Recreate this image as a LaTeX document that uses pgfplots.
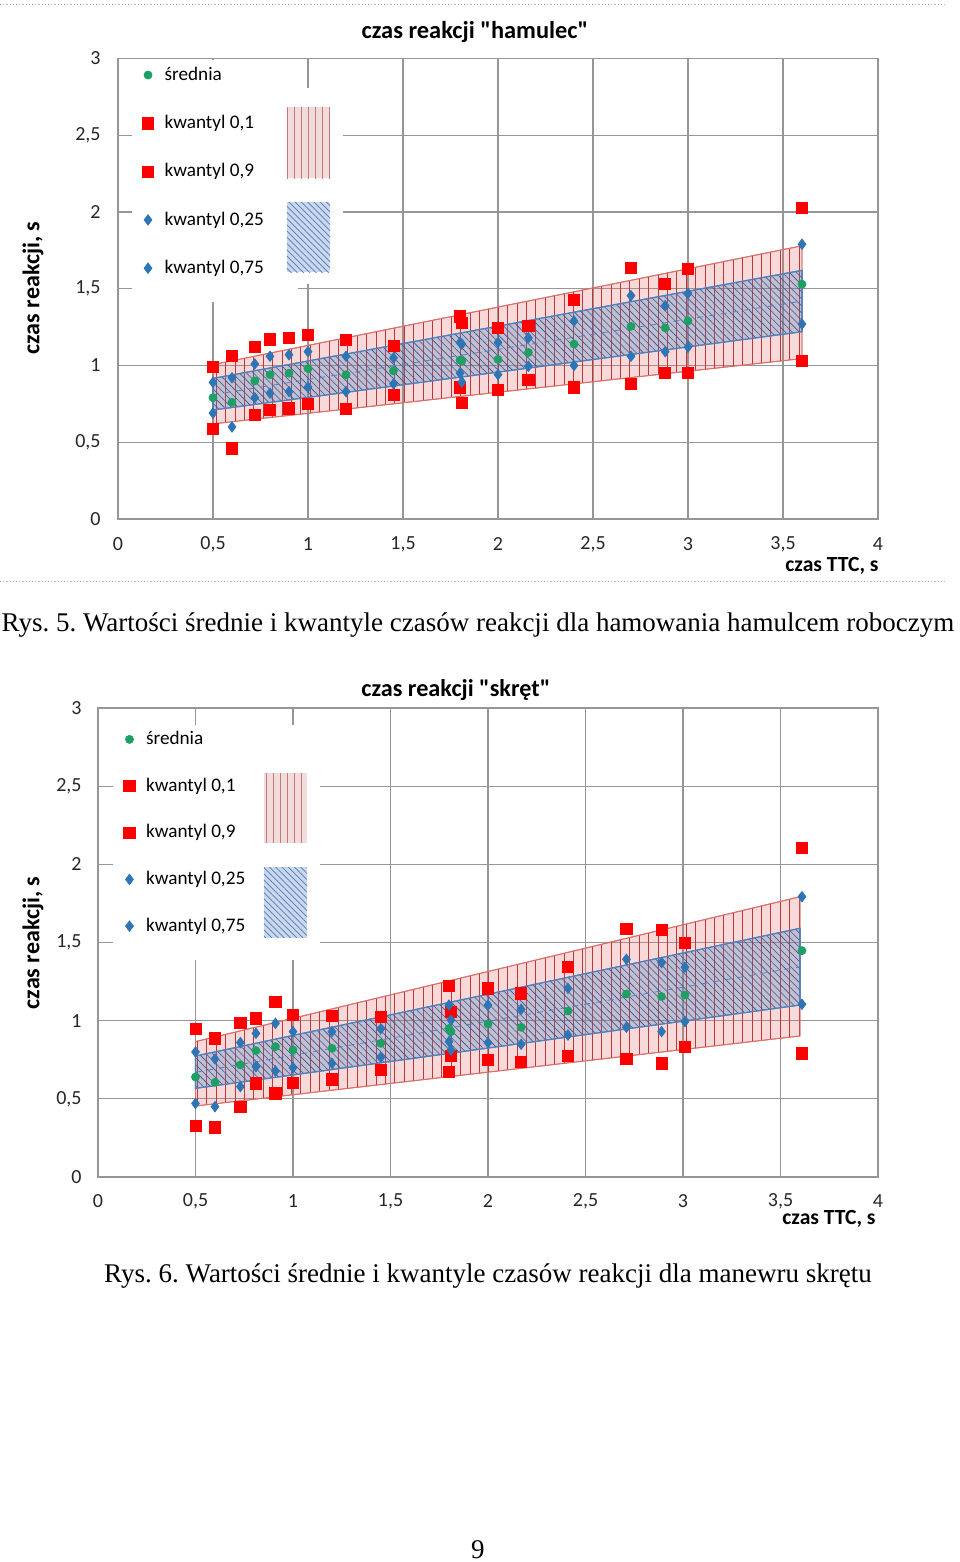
\documentclass[border=0pt]{standalone}
\usepackage{fontspec}
\setmainfont{Carlito}[Ligatures=TeXOff]
\newfontfamily\timesfont{Liberation Serif}
\usepackage{pgfplots}
\usepackage{pgfplotstable}
\pgfplotsset{compat=1.18}
\usetikzlibrary{patterns.meta}
\frenchspacing

\definecolor{mred}{RGB}{255,0,0}
\definecolor{mblue}{RGB}{46,117,182}
\definecolor{mgreen}{RGB}{30,160,100}
\definecolor{gridgray}{RGB}{150,150,150}
\definecolor{bandred}{RGB}{220,110,105}
\definecolor{hatchred}{RGB}{190,55,55}
\definecolor{bandblue}{RGB}{79,129,189}
\definecolor{hatchblue}{RGB}{55,85,140}
\definecolor{swred}{RGB}{242,220,219}
\definecolor{swblue}{RGB}{200,216,238}
\definecolor{swredline}{RGB}{195,120,120}
\definecolor{swblueline}{RGB}{90,120,170}

% hamulec: x, mean, q10, q90, q25, q75
\pgfplotstableread{
x m q10 q90 q25 q75
0.5 0.79 0.585 0.99 0.69 0.89
0.6 0.76 0.46 1.06 0.60 0.92
0.72 0.90 0.68 1.12 0.79 1.01
0.8 0.94 0.71 1.17 0.82 1.06
0.9 0.95 0.72 1.18 0.83 1.07
1.0 0.98 0.75 1.20 0.86 1.09
1.2 0.94 0.715 1.165 0.83 1.06
1.45 0.965 0.81 1.13 0.88 1.05
1.8 1.035 0.857 1.32 0.95 1.15
1.81 1.03 0.757 1.275 0.893 1.14
2.0 1.04 0.84 1.245 0.94 1.15
2.16 1.085 0.905 1.26 0.995 1.18
2.4 1.14 0.857 1.425 1.0 1.29
2.7 1.255 0.88 1.635 1.06 1.455
2.88 1.245 0.95 1.53 1.09 1.39
3.0 1.29 0.95 1.63 1.12 1.47
3.6 1.53 1.03 2.025 1.27 1.79
}\dataA

% skret
\pgfplotstableread{
x m q10 q90 q25 q75
0.5 0.64 0.325 0.945 0.47 0.80
0.6 0.606 0.318 0.887 0.45 0.755
0.73 0.717 0.446 0.987 0.578 0.86
0.81 0.808 0.599 1.015 0.706 0.919
0.91 0.834 0.535 1.12 0.678 0.983
1.0 0.8125 0.60 1.036 0.70 0.93
1.2 0.823 0.625 1.03 0.727 0.93
1.45 0.855 0.685 1.026 0.766 0.947
1.8 0.95 0.674 1.222 0.866 1.10
1.81 0.93 0.774 1.057 0.812 1.004
2.0 0.979 0.749 1.207 0.86 1.10
2.17 0.958 0.734 1.175 0.849 1.073
2.41 1.062 0.774 1.346 0.908 1.207
2.71 1.171 0.753 1.587 0.958 1.393
2.89 1.154 0.727 1.58 0.93 1.371
3.01 1.164 0.834 1.495 0.994 1.342
3.61 1.448 0.791 2.103 1.105 1.793
}\dataB

\pgfplotsset{
  mychart/.style={
    scale only axis, anchor=south west,
    xmin=0,xmax=4,ymin=0,ymax=3,
    xtick={0,0.5,1,1.5,2,2.5,3,3.5,4},
    ytick={0,0.5,1,1.5,2,2.5,3},
    xticklabels={0,{0,5},1,{1,5},2,{2,5},3,{3,5},4},
    yticklabels={0,{0,5},1,{1,5},2,{2,5},3},
    grid=major, grid style={gridgray, line width=0.55bp},
    axis line style={gridgray, line width=0.55bp},
    major tick length=0pt,
    tick label style={font=\fontsize{10bp}{12bp}\selectfont, text=black!85},
    xticklabel style={anchor=center, inner sep=0pt},
    yticklabel style={anchor=east, inner sep=0pt},
    legend style={draw=none, fill=none, anchor=north west,
      font=\fontsize{9.6bp}{11bp}\selectfont,
      /tikz/every odd column/.append style={column sep=3.5bp}},
    legend cell align=left,
  },
  mk/.style={only marks, legend image code/.code={\draw[mark repeat=2,mark phase=2,##1] plot coordinates {(0cm,0cm) (0.14cm,0cm) (0.28cm,0cm)};}},
  mean/.style={mk, mark=*, mark size=2bp, color=mgreen},
  qred/.style={mk, mark=square*, mark size=2.8bp, color=mred},
  qblue/.style={mk, mark=diamond*, mark size=2.6bp, color=mblue},
  redband/.style={forget plot, draw=bandred, line width=0.45bp, fill=bandred, fill opacity=0.26,
     postaction={pattern={Lines[angle=90,distance=4.7bp,line width=0.4bp]}, pattern color=hatchred, fill opacity=0.4}},
  blueband/.style={forget plot, draw=bandblue, line width=0.55bp, fill=bandblue, fill opacity=0.3,
     postaction={pattern={Lines[angle=-45,distance=2.5bp,line width=0.3bp]}, pattern color=hatchblue, fill opacity=0.35}},
}

\begin{document}
\begin{tikzpicture}
\path[use as bounding box] (0,0) rectangle (480bp,-781bp);

% ---------- chart 1 ----------
\begin{axis}[mychart, at={(59bp,-259.5bp)}, width=380bp, height=230.25bp,
  xticklabel style={yshift=-12.5bp},
  yticklabel style={xshift=-8.5bp},
  legend style={at={(axis cs:0.095,3.0)}, row sep=12bp}]
\fill[white] (axis cs:0.074,2.988) rectangle (axis cs:0.947,1.412);
\fill[white] (axis cs:0.853,2.805) rectangle (axis cs:1.184,1.529);
\fill[swred] (axis cs:0.889,2.681) rectangle (axis cs:1.116,2.219);
\fill[pattern={Lines[angle=90,distance=3.5bp,line width=0.4bp]}, pattern color=swredline] (axis cs:0.889,2.681) rectangle (axis cs:1.116,2.219);
\fill[swblue] (axis cs:0.889,2.063) rectangle (axis cs:1.116,1.607);
\fill[pattern={Lines[angle=-45,distance=2.2bp,line width=0.35bp]}, pattern color=swblueline] (axis cs:0.889,2.063) rectangle (axis cs:1.116,1.607);
\addplot[mean] table[x=x,y=m]{\dataA};
\addlegendentry{średnia}
\addplot[qred] table[x=x,y=q10]{\dataA};
\addlegendentry{kwantyl 0,1}
\addplot[qred] table[x=x,y=q90]{\dataA};
\addlegendentry{kwantyl 0,9}
\addplot[qblue] table[x=x,y=q25]{\dataA};
\addlegendentry{kwantyl 0,25}
\addplot[qblue] table[x=x,y=q75]{\dataA};
\addlegendentry{kwantyl 0,75}
\addplot[redband] coordinates {(0.5,1.006) (3.6,1.78) (3.6,1.045) (0.5,0.62)} -- cycle;
\addplot[blueband] coordinates {(0.5,0.916) (3.6,1.62) (3.6,1.22) (0.5,0.71)} -- cycle;
\addplot[forget plot, bandblue, dashed, line width=0.4bp] coordinates {(0.5,0.81) (3.6,1.42)};
\end{axis}

% ---------- chart 2 ----------
\begin{axis}[mychart, at={(49bp,-588.5bp)}, width=390bp, height=234.5bp,
  xticklabel style={yshift=-12bp},
  yticklabel style={xshift=-8bp},
  legend style={at={(axis cs:0.1,2.905)}, row sep=11.2bp}]
\fill[white] (axis cs:0.077,2.891) rectangle (axis cs:1.138,1.388);
\fill[swred] (axis cs:0.851,2.584) rectangle (axis cs:1.072,2.137);
\fill[pattern={Lines[angle=90,distance=3.5bp,line width=0.4bp]}, pattern color=swredline] (axis cs:0.851,2.584) rectangle (axis cs:1.072,2.137);
\fill[swblue] (axis cs:0.851,1.983) rectangle (axis cs:1.072,1.529);
\fill[pattern={Lines[angle=-45,distance=2.2bp,line width=0.35bp]}, pattern color=swblueline] (axis cs:0.851,1.983) rectangle (axis cs:1.072,1.529);
\addplot[mean] table[x=x,y=m]{\dataB};
\addlegendentry{średnia}
\addplot[qred] table[x=x,y=q10]{\dataB};
\addlegendentry{kwantyl 0,1}
\addplot[qred] table[x=x,y=q90]{\dataB};
\addlegendentry{kwantyl 0,9}
\addplot[qblue] table[x=x,y=q25]{\dataB};
\addlegendentry{kwantyl 0,25}
\addplot[qblue] table[x=x,y=q75]{\dataB};
\addlegendentry{kwantyl 0,75}
\addplot[redband] coordinates {(0.5,0.866) (3.6,1.793) (3.6,0.902) (0.5,0.454)} -- cycle;
\addplot[blueband] coordinates {(0.5,0.774) (3.6,1.591) (3.6,1.10) (0.5,0.567)} -- cycle;
\addplot[forget plot, bandblue, dashed, line width=0.4bp] coordinates {(0.5,0.67) (3.6,1.345)};
\end{axis}

% ---------- texts (pixel coordinates) ----------
\begin{scope}[x=0.5bp, y=-0.5bp]
\draw[gray!55, line width=0.5bp, dash pattern=on 0.6bp off 1bp] (0,5) -- (945,5);
\draw[gray!55, line width=0.5bp, dash pattern=on 0.6bp off 1bp] (0,582) -- (945,582);
\node[font=\bfseries\fontsize{12.2bp}{14bp}\selectfont] at (475,32) {czas reakcji "hamulec"};
\node[rotate=90, font=\bfseries\fontsize{12bp}{14bp}\selectfont] at (33,288) {czas reakcji, s};
\node[anchor=east, inner sep=0pt, font=\bfseries\fontsize{10.8bp}{12bp}\selectfont] at (879,566) {czas TTC, s};
\node[inner sep=0pt, font=\timesfont\fontsize{13.5bp}{15bp}\selectfont] at (478,625) {Rys. 5. Wartości średnie i kwantyle czasów reakcji dla hamowania hamulcem roboczym};
\node[font=\bfseries\fontsize{12.1bp}{14bp}\selectfont] at (456,690) {czas reakcji "skręt"};
\node[rotate=90, font=\bfseries\fontsize{12bp}{14bp}\selectfont] at (33,943) {czas reakcji, s};
\node[anchor=east, inner sep=0pt, font=\bfseries\fontsize{10.8bp}{12bp}\selectfont] at (876,1219) {czas TTC, s};
\node[inner sep=0pt, font=\timesfont\fontsize{13.5bp}{15bp}\selectfont] at (488,1276) {Rys. 6. Wartości średnie i kwantyle czasów reakcji dla manewru skrętu};
\node[inner sep=0pt, font=\timesfont\fontsize{13.5bp}{15bp}\selectfont] at (478,1550) {9};
\end{scope}
\end{tikzpicture}
\end{document}
